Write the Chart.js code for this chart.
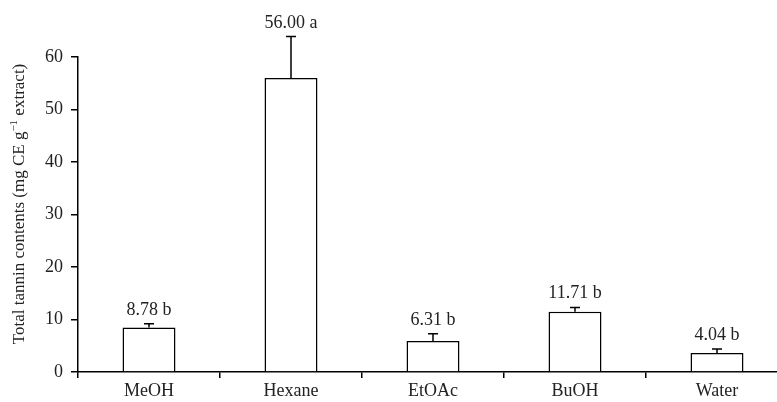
<!DOCTYPE html>
<html>
<head>
<meta charset="utf-8">
<script src="https://cdn.jsdelivr.net/npm/chart.js@4.4.1/dist/chart.umd.min.js"></script>
<style>
  html, body { margin: 0; padding: 0; background: #fff; }
  #wrap { width: 777px; height: 402px; overflow: hidden; }
</style>
</head>
<body>
<div id="wrap"><canvas id="tanninChart" width="788" height="402"></canvas></div>
<script>
// values
const solvents = ['MeOH', 'Hexane', 'EtOAc', 'BuOH', 'Water'];
const tannin = [8.5, 56.0, 5.9, 11.5, 3.6];
const errUp = [0.7, 7.9, 1.4, 0.8, 0.8];
const barLabels = ['8.78 b', '56.00 a', '6.31 b', '11.71 b', '4.04 b'];
const yTicks = [0, 10, 20, 30, 40, 50, 60];

const FONT = '"Liberation Serif", "Times New Roman", serif';

// error bars + value labels on top of bars
const errorBarPlugin = {
    id: 'errorBars',
    afterDatasetsDraw(chart) {
        const ctx = chart.ctx;
        const y = chart.scales.y;
        const meta = chart.getDatasetMeta(0);
        ctx.save();
        ctx.strokeStyle = '#000';
        ctx.lineWidth = 1.5;
        ctx.fillStyle = '#222';
        ctx.font = '18px ' + FONT;
        ctx.textAlign = 'center';
        ctx.textBaseline = 'alphabetic';
        meta.data.forEach((bar, i) => {
            const top = y.getPixelForValue(tannin[i] + errUp[i]);
            ctx.beginPath();
            ctx.moveTo(bar.x, bar.y);
            ctx.lineTo(bar.x, top);
            ctx.moveTo(bar.x - 5, top);
            ctx.lineTo(bar.x + 5, top);
            ctx.stroke();
            ctx.fillText(barLabels[i], bar.x, top - 9);
        });
        ctx.restore();
    }
};

// rotated y title with a real superscript
const yTitlePlugin = {
    id: 'yTitle',
    afterDraw(chart) {
        const ctx = chart.ctx;
        ctx.save();
        ctx.translate(24, 204);
        ctx.rotate(-Math.PI / 2);
        ctx.fillStyle = '#222';
        ctx.textBaseline = 'alphabetic';
        const a = 'Total tannin contents (mg CE g';
        const sup = '\u22121';
        const b = ' extract)';
        ctx.font = '17px ' + FONT;
        const wa = ctx.measureText(a).width;
        const wb = ctx.measureText(b).width;
        ctx.font = '11px ' + FONT;
        const ws = ctx.measureText(sup).width;
        let x = -(wa + ws + wb) / 2;
        ctx.font = '17px ' + FONT;
        ctx.fillText(a, x, 0);
        x += wa;
        ctx.font = '11px ' + FONT;
        ctx.fillText(sup, x, -7);
        x += ws;
        ctx.font = '17px ' + FONT;
        ctx.fillText(b, x, 0);
        ctx.restore();
    }
};

new Chart(document.getElementById('tanninChart'), {
    type: 'bar',
    data: {
        labels: solvents,
        datasets: [{
            data: tannin,
            backgroundColor: '#fff',
            borderColor: '#000',
            borderWidth: 1.5,
            borderSkipped: 'bottom',
            categoryPercentage: 1,
            barPercentage: 0.373
        }]
    },
    options: {
        responsive: false,
        devicePixelRatio: 1,
        animation: false,
        layout: { padding: { top: 57, left: 0, right: 0, bottom: 0 } },
        plugins: {
            legend: { display: false },
            tooltip: { enabled: false }
        },
        scales: {
            x: {
                offset: true,
                grid: { offset: true, drawOnChartArea: false, drawTicks: true, tickLength: 6, color: '#000', lineWidth: 1.5 },
                border: { color: '#000', width: 1.5 },
                ticks: { color: '#222', font: { family: FONT, size: 18 }, padding: 2 },
                afterFit(s) { s.height = 30; }
            },
            y: {
                min: 0,
                max: 60,
                afterBuildTicks(s) { s.ticks = yTicks.map(v => ({ value: v })); },
                grid: { drawOnChartArea: false, drawTicks: true, tickLength: 7, color: '#000', lineWidth: 1.5 },
                border: { color: '#000', width: 1.5 },
                ticks: { color: '#222', font: { family: FONT, size: 18 }, padding: 8 },
                afterFit(s) { s.width = 78; }
            }
        }
    },
    plugins: [errorBarPlugin, yTitlePlugin]
});
</script>
</body>
</html>
